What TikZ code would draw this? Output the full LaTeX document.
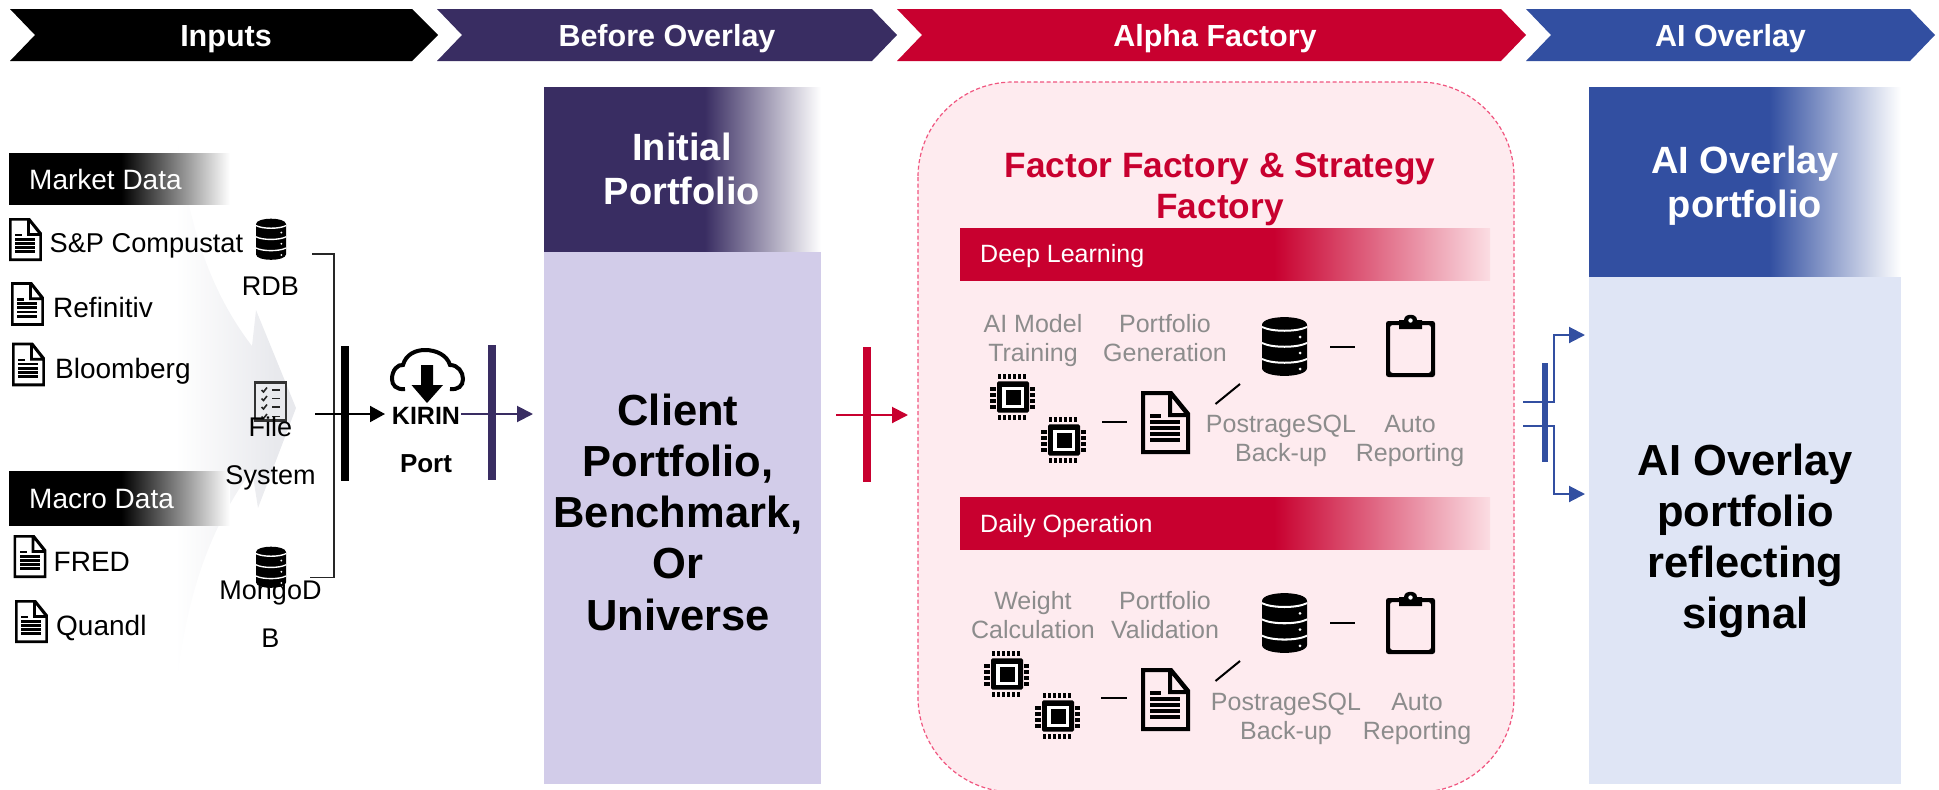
\documentclass[tikz,border=0pt]{standalone}
\usepackage{fontspec}
\setmainfont{Liberation Sans}
\usetikzlibrary{arrows.meta}
\definecolor{cpurple}{HTML}{392D62}
\definecolor{cpurplelt}{HTML}{D2CCE9}
\definecolor{cred}{HTML}{C8002F}
\definecolor{cpink}{HTML}{FEEBEF}
\definecolor{cpinkline}{HTML}{F0557F}
\definecolor{cblue}{HTML}{324FA1}
\definecolor{cbluelt}{HTML}{DFE5F5}
\definecolor{cgreytext}{HTML}{8C8C8C}
\definecolor{cfaint}{HTML}{E8E9ED}
\definecolor{cpinkend}{HTML}{FBDDE3}
% #1 name, #2 colour, #3 end colour, #4 stop position in bp (25..75 spans the box)
\newcommand{\fadeshading}[4]{\pgfdeclarehorizontalshading{#1}{100bp}{color(0bp)=(#2);color(#4bp)=(#2);color(75bp)=(#3);color(100bp)=(#3)}}
\fadeshading{fadeblack}{black}{white}{50.4}
\fadeshading{fadepurple}{cpurple}{white}{54.0}
\fadeshading{fadeblue}{cblue}{white}{53.9}
\fadeshading{fadered}{cred}{cpinkend}{54.6}
\pgfdeclarehorizontalshading{fadefaint}{100bp}{color(0bp)=(white);color(34bp)=(white);color(68bp)=(cfaint);color(100bp)=(cfaint)}
\newcommand{\fs}[1]{\fontsize{#1}{#1}\selectfont}
\colorlet{cwhiteband}{white}
\tikzset{
  block/.style={anchor=north west,inner sep=0pt,outer sep=0pt,draw=none},
  chevron/.style={draw=none},
  chevlabel/.style={anchor=base,text=white,font=\bfseries\fs{30.5},inner sep=0pt},
  listlabel/.style={anchor=base west,text=black,font=\fs{28},inner sep=0pt},
  storelabel/.style={anchor=base,align=center,text=black,font=\fontsize{27}{48}\selectfont,inner sep=0pt},
  bannerlabel/.style={anchor=base west,text=white,font=\fs{28},inner sep=0pt},
  subbannerlabel/.style={anchor=base west,text=white,font=\fs{25},inner sep=0pt},
  steplabel/.style={anchor=base,align=center,text=cgreytext,font=\fontsize{25}{29}\selectfont,inner sep=0pt},
  headlabel/.style={anchor=base,align=center,text=white,font=\bfseries\fontsize{38}{44}\selectfont,inner sep=0pt},
  bodylabel/.style={anchor=base,align=center,text=black,font=\bfseries\fontsize{43.5}{51.1}\selectfont,inner sep=0pt},
  shortline/.style={line width=2pt,black},
  docicon/.pic={
    \fill[black,even odd rule]
      (0,0) -- (31,0) -- (49,22) -- (49,63) -- (0,63) -- cycle
      (4,4) -- (27,4) -- (27,26) -- (45,26) -- (45,59) -- (4,59) -- cycle
      (31,7) -- (31,22) -- (43,22) -- cycle;
    \fill[black] (9,23) rectangle (20,27);
    \foreach \yy in {29,35,41,47} {\fill[black] (9,\yy) rectangle (39,\yy+4);}
  },
  dbicon/.pic={
    \fill[black] (0,8) .. controls (0,-2.5) and (45,-2.5) .. (45,8)
      -- (45,51) .. controls (45,61.5) and (0,61.5) .. (0,51) -- cycle;
    \foreach \yy in {9,25,41} {
      \fill[cwhiteband] (0,\yy) .. controls (10,\yy+5) and (35,\yy+5) .. (45,\yy)
        -- (45,\yy+2) .. controls (35,\yy+7) and (10,\yy+7) .. (0,\yy+2) -- cycle;}
    \foreach \yy in {20,36,52} {\fill[cwhiteband] (38,\yy) circle[radius=1.5];}
  },
  clipicon/.pic={
    \fill[black,even odd rule,rounded corners=2.5pt]
      (0,6) rectangle (49,62) (4,10) rectangle (45,58);
    \fill[black] (13,14) -- (13,5) -- (18,5) .. controls (18,-2) and (31,-2) .. (31,5)
      -- (36,5) -- (36,14) -- cycle;
    \fill[white] (24.5,5.5) circle[radius=2.2];
  },
  chipicon/.pic={
    \foreach \pp in {9.5,14.5,19.5,24.5,29.5,34.5} {
      \fill[black] (\pp-1.5,0) rectangle (\pp+1.5,5);
      \fill[black] (\pp-1.5,41) rectangle (\pp+1.5,46);}
    \foreach \pp in {13,19,25,31} {
      \fill[black] (0,\pp) rectangle (5.5,\pp+3.5);
      \fill[black] (39.5,\pp) rectangle (45,\pp+3.5);}
    \fill[black,rounded corners=1.5pt] (7,7.3) rectangle (39,38.7);
    \fill[white] (12,12.5) rectangle (33.5,33.5);
    \fill[black] (15.5,16) rectangle (30.5,30.5);
  },
  checkicon/.pic={
    \draw[line width=2.4pt,black!80] (1,1) rectangle (32,39);
    \foreach \yy in {8.5,17,25.5,35} {
      \draw[line width=1.6pt,black!85] (7.5,\yy) -- (9.5,\yy+2) -- (13,\yy-2.5);
      \draw[line width=1.8pt,black!85] (18,\yy) -- (26,\yy);}
  }
}
\begin{document}
\begin{tikzpicture}[x=1pt,y=-1pt]
\useasboundingbox (0,0) rectangle (1939,790);

% faint merging arrow behind the inputs
\path[shading=fadefaint]
  (176,123) .. controls (185,210) and (205,285) .. (252,346) -- (256,310) -- (296,408)
  -- (258,508) -- (252,470) .. controls (205,535) and (185,605) .. (176,692)
  -- (149,560) -- (149,256) -- cycle;

% phase chevrons
\fill[chevron,black] (10,9) -- (412,9) -- (438,35) -- (412,61) -- (10,61) -- (35,35) -- cycle;
\fill[chevron,cpurple] (437,9) -- (872,9) -- (897,35) -- (872,61) -- (437,61) -- (462,35) -- cycle;
\fill[chevron,cred] (897,9) -- (1501,9) -- (1526,35) -- (1501,61) -- (897,61) -- (922,35) -- cycle;
\fill[chevron,cblue] (1526,9) -- (1910,9) -- (1935,35) -- (1910,61) -- (1526,61) -- (1551,35) -- cycle;
\node[chevlabel] (tInputs) at (226,46) {Inputs};
\node[chevlabel] (tBefore) at (667,46) {Before Overlay};
\node[chevlabel] (tAlpha) at (1215,46) {Alpha Factory};
\node[chevlabel] (tOverlay) at (1730.5,46) {AI Overlay};

% inputs
\node[block,shading=fadeblack,minimum width=221pt,minimum height=51.5pt] (bMarket) at (9,153) {};
\node[block,shading=fadeblack,minimum width=221pt,minimum height=54pt] (bMacro) at (9,471) {};
\node[bannerlabel] (tMarket) at (29,189) {Market Data};
\node[bannerlabel] (tMacro) at (29,508) {Macro Data};
\path (9,218) pic[xscale=.673,yscale=.683] (dA) {docicon};
\path (11,282) pic[xscale=.673,yscale=.698] (dB) {docicon};
\path (12,342.6) pic[xscale=.673,yscale=.693] (dC) {docicon};
\path (13.5,535) pic[xscale=.673,yscale=.683] (dD) {docicon};
\path (15,600) pic[xscale=.673,yscale=.683] (dE) {docicon};
\node[listlabel,font=\fs{27.2}] (tSP) at (49.5,252.5) {S\&P Compustat};
\node[listlabel] (tRef) at (53,317) {Refinitiv};
\node[listlabel] (tBloom) at (55,378) {Bloomberg};
\node[listlabel] (tFred) at (53.5,571) {FRED};
\node[listlabel] (tQuandl) at (56,635) {Quandl};

% stores
\path (256,218.6) pic[xscale=.667,yscale=.70] (sRDB) {dbicon};
\path (254,381.5) pic (sFile) {checkicon};
\path (256,546.6) pic[xscale=.667,yscale=.70] (sMongo) {dbicon};
\node[storelabel] (tRDB) at (270.5,295) {RDB};
\node[storelabel] (tFile) at (270.5,484) {File\\System};
\node[storelabel] (tMongo) at (270.5,647) {MongoD\\B};

% bracket and bar
\coordinate (brTop) at (312,254);
\coordinate (brTopC) at (334,254);
\coordinate (brBot) at (310,577.6);
\coordinate (brBotC) at (334,577.6);
\draw[line width=1.6pt,black!85] (brTop) -- (brTopC) -- (brBotC) -- (brBot);
\node[block,fill=black,minimum width=8pt,minimum height=135pt] (barIn) at (341,346) {};
\coordinate (inFrom) at (315,414);
\coordinate (inTo) at (385,414);
\draw[line width=2pt,black,-{Triangle[length=15pt,width=16pt]}] (inFrom) -- (inTo);

% KIRIN cloud
\draw[line width=4pt,black] (405,389) .. controls (396,390) and (392,385) .. (392,379)
  .. controls (392,370) and (398,364) .. (403,365)
  .. controls (406,354) and (416,350) .. (425,350)
  .. controls (436,350) and (447,355) .. (450,365)
  .. controls (458,365) and (463,372) .. (463,379)
  .. controls (463,386) and (458,390) .. (450,389);
\fill[black] (421,365) -- (433,365) -- (433,385) -- (443,385) -- (427,403) -- (411.5,385) -- (421,385) -- cycle;
\node[anchor=base,font=\bfseries\fs{25},inner sep=0pt] (tKirin) at (426,424.5) {KIRIN};
\node[anchor=base,font=\bfseries\fs{26},inner sep=0pt] (tPort) at (426,472.5) {Port};
\node[block,fill=cpurple,minimum width=8pt,minimum height=135pt] (barOut) at (488,345) {};
\coordinate (outFrom) at (461,414);
\coordinate (outTo) at (533,414);
\draw[line width=2pt,cpurple,-{Triangle[length=16pt,width=16pt]}] (outFrom) -- (outTo);

% initial portfolio
\node[block,shading=fadepurple,minimum width=277pt,minimum height=165pt] (hInit) at (544,87) {};
\node[block,fill=cpurplelt,minimum width=277pt,minimum height=532pt] (bInit) at (544,252) {};
\node[headlabel] (tInit) at (682,204.5) {Initial\\Portfolio};
\node[bodylabel] (tClient) at (678,630) {Client\\Portfolio,\\Benchmark,\\Or\\Universe};

% red connector
\node[block,fill=cred,minimum width=8pt,minimum height=135pt] (barRed) at (863,347) {};
\coordinate (redFrom) at (836,415);
\coordinate (redTo) at (908,415);
\draw[line width=2pt,cred,-{Triangle[length=16pt,width=16pt]}] (redFrom) -- (redTo);

% alpha factory panel
\draw[fill=cpink,draw=cpinkline,line width=1.2pt,dash pattern=on 4pt off 2.5pt,rounded corners=95pt] (918,82) rectangle (1514,792);
\node[anchor=base,align=center,text=cred,font=\bfseries\fontsize{35.2}{41}\selectfont,inner sep=0pt] (tFactory) at (1220,218.5) {Factor Factory \& Strategy\\Factory};
\node[block,shading=fadered,minimum width=530pt,minimum height=52pt] (bDeep) at (960,228) {};
\node[block,shading=fadered,minimum width=530pt,minimum height=52pt] (bDaily) at (960,497) {};
\node[subbannerlabel] (tDeep) at (980,262.5) {Deep Learning};
\node[subbannerlabel] (tDaily) at (980,532) {Daily Operation};

% deep learning steps
\node[steplabel] (tTrain) at (1033,361) {AI Model\\Training};
\node[steplabel] (tGen) at (1165,361) {Portfolio\\Generation};
\node[steplabel] (tSQLa) at (1281,461) {PostrageSQL\\Back-up};
\node[steplabel] (tAutoa) at (1410,461) {Auto\\Reporting};
\path (990,374) pic (chipA) {chipicon};
\path (1041,417) pic (chipB) {chipicon};
\path (1141,391) pic (docF) {docicon};
\path (1262,317) pic (dbA) {dbicon};
\path (1386,315) pic (clipA) {clipicon};
\coordinate (aL1) at (1102,422); \coordinate (aR1) at (1127,422);
\coordinate (aL2) at (1215.5,404); \coordinate (aR2) at (1240,384);
\coordinate (aL3) at (1330,347); \coordinate (aR3) at (1355,347);
\draw[shortline] (aL1) -- (aR1);
\draw[shortline] (aL2) -- (aR2);
\draw[shortline] (aL3) -- (aR3);

% daily operation steps
\node[steplabel] (tWeight) at (1033,638) {Weight\\Calculation};
\node[steplabel] (tValid) at (1165,638) {Portfolio\\Validation};
\node[steplabel] (tSQLb) at (1286,739) {PostrageSQL\\Back-up};
\node[steplabel] (tAutob) at (1417,739) {Auto\\Reporting};
\path (984,651) pic (chipC) {chipicon};
\path (1035,693) pic (chipD) {chipicon};
\path (1141,668) pic (docG) {docicon};
\path (1262,593) pic[yscale=1.017] (dbB) {dbicon};
\path (1386,592) pic (clipB) {clipicon};
\coordinate (bL1) at (1101,698); \coordinate (bR1) at (1127,698);
\coordinate (bL2) at (1215.5,681); \coordinate (bR2) at (1240,661);
\coordinate (bL3) at (1330,623); \coordinate (bR3) at (1355,623);
\draw[shortline] (bL1) -- (bR1);
\draw[shortline] (bL2) -- (bR2);
\draw[shortline] (bL3) -- (bR3);

% blue connector
\node[block,fill=cblue,minimum width=6pt,minimum height=99pt] (barBlue) at (1542,363) {};
\coordinate (upFrom) at (1523,402); \coordinate (upMid) at (1554,402);
\coordinate (upBend) at (1554,335); \coordinate (upTo) at (1585,335);
\coordinate (dnFrom) at (1523,426); \coordinate (dnMid) at (1554,426);
\coordinate (dnBend) at (1554,494); \coordinate (dnTo) at (1585,494);
\draw[line width=2pt,cblue,-{Triangle[length=16pt,width=16pt]}] (upFrom) -- (upMid) -- (upBend) -- (upTo);
\draw[line width=2pt,cblue,-{Triangle[length=16pt,width=16pt]}] (dnFrom) -- (dnMid) -- (dnBend) -- (dnTo);

% AI overlay portfolio
\node[block,shading=fadeblue,minimum width=312pt,minimum height=190pt] (hAI) at (1589,87) {};
\node[block,fill=cbluelt,minimum width=312pt,minimum height=507pt] (bAI) at (1589,277) {};
\node[headlabel] (tAIhead) at (1745,217.5) {AI Overlay\\portfolio};
\node[bodylabel] (tAIbody) at (1745.5,628.5) {AI Overlay\\portfolio\\reflecting\\signal};
\end{tikzpicture}
\end{document}
